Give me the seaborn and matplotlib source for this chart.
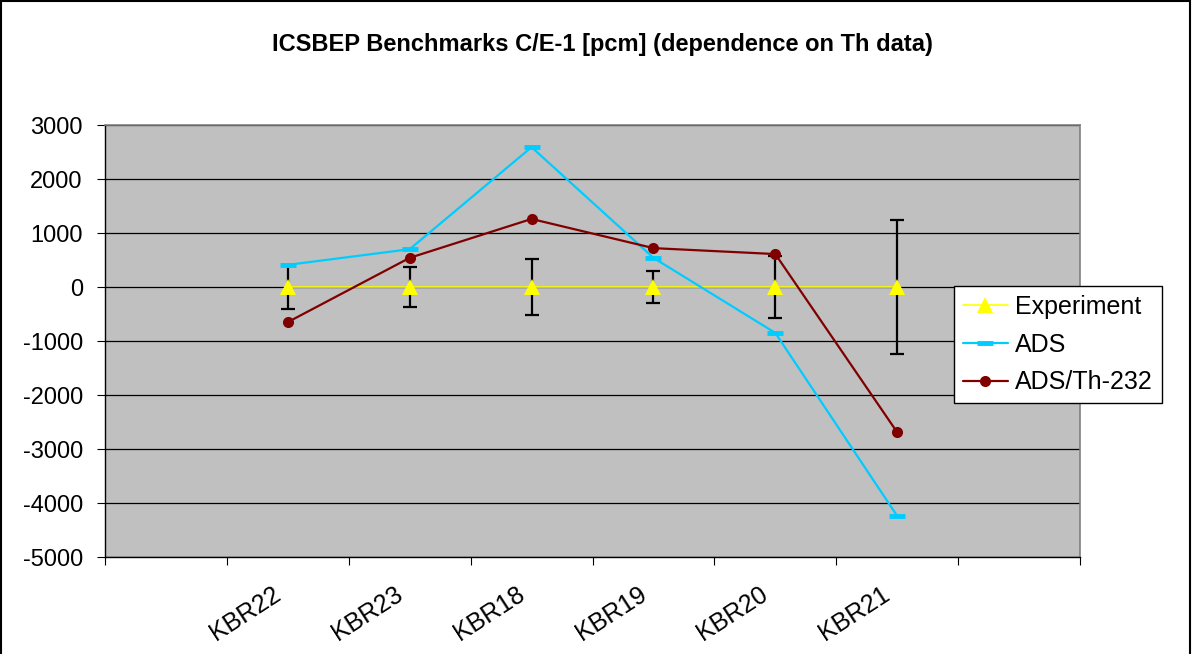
import matplotlib
matplotlib.use("Agg")
import matplotlib.pyplot as plt
import matplotlib.transforms as mtransforms
import seaborn as sns
import pandas as pd
import numpy as np
from matplotlib.lines import Line2D
from matplotlib.patches import Rectangle

categories = ["KBR22", "KBR23", "KBR18", "KBR19", "KBR20", "KBR21"]
experiment = [0, 0, 0, 0, 0, 0]
exp_err = [400, 370, 520, 300, 580, 1240]
ads = [410, 700, 2590, 540, -850, -4240]
ads_th = [-650, 540, 1260, 720, 610, -2690]
yticks = [3000, 2000, 1000, 0, -1000, -2000, -3000, -4000, -5000]

sns.set_theme(style="white")
plt.rcParams['font.family'] = ['Liberation Sans', 'DejaVu Sans']
plt.rcParams['text.color'] = 'black'
plt.rcParams['xtick.color'] = 'black'
plt.rcParams['ytick.color'] = 'black'
plt.rcParams['xtick.labelcolor'] = 'black'
plt.rcParams['ytick.labelcolor'] = 'black'

fig = plt.figure(figsize=(11.92, 6.54), dpi=100)
ax = fig.add_axes([105/1192, 1-557/654, (1080-105)/1192, (557-125)/654])
ax.set_facecolor("#C0C0C0")

x = np.arange(len(categories))
df = pd.DataFrame({"x": x, "Experiment": experiment, "ADS": ads, "ADS/Th-232": ads_th})

for yv in yticks:
    ax.axhline(yv, color="#000000", lw=0.9, zorder=1)

ax.errorbar(df["x"], df["Experiment"], yerr=exp_err, fmt="none", ecolor="black",
            elinewidth=1.6, capsize=5, capthick=1.6, zorder=3)
sns.lineplot(data=df, x="x", y="Experiment", ax=ax, color="#FFFF00", lw=1.2,
             marker="^", markersize=11, markeredgewidth=0, zorder=4)
sns.lineplot(data=df, x="x", y="ADS", ax=ax, color="#00CCFF", lw=1.6,
             marker="_", markersize=12, markeredgewidth=3.5, markeredgecolor="#00CCFF", zorder=5)
sns.lineplot(data=df, x="x", y="ADS/Th-232", ax=ax, color="#800000", lw=1.6,
             marker="o", markersize=8, markeredgewidth=0, zorder=6)

ax.set_xlim(-1.5, 6.5)
ax.set_ylim(-5000, 3000)
ax.set_yticks(yticks)
ax.set_yticklabels([str(v) for v in yticks], fontsize=17)
ax.set_xticks(np.arange(-1.5, 7.0, 1.0))
ax.set_xticklabels([])
ax.set_xticks(x, minor=True)
ax.set_xticklabels(categories, minor=True, rotation=33, ha="right", va="top",
                   rotation_mode="anchor", fontsize=18)
ax.tick_params(axis="x", which="major", direction="out", length=6, width=0.8,
               color="black", bottom=True)
ax.tick_params(axis="x", which="minor", length=0, pad=18)
ax.tick_params(axis="y", direction="out", length=6, width=0.8, color="black",
               left=True, pad=10)
offset = mtransforms.ScaledTranslation(-16/100, 0, fig.dpi_scale_trans)
for lab in ax.get_xticklabels(minor=True):
    lab.set_transform(lab.get_transform() + offset)
ax.set_xlabel("")
ax.set_ylabel("")
for side in ["left", "bottom"]:
    ax.spines[side].set_color("black")
    ax.spines[side].set_linewidth(1.0)
for side in ["top", "right"]:
    ax.spines[side].set_color("#808080")
    ax.spines[side].set_linewidth(1.2)

handles = [
    Line2D([], [], color="#FFFF00", lw=1.2, marker="^", markersize=11, markeredgewidth=0),
    Line2D([], [], color="#00CCFF", lw=1.6, marker="_", markersize=12, markeredgewidth=3.5),
    Line2D([], [], color="#800000", lw=1.6, marker="o", markersize=8, markeredgewidth=0),
]
leg = fig.legend(handles, ["Experiment", "ADS", "ADS/Th-232"],
                 loc="upper left", bbox_to_anchor=(954/1192, 1-286/654),
                 fontsize=18, frameon=True, fancybox=False, framealpha=1,
                 edgecolor="black", borderpad=0.35, labelspacing=0.55,
                 handlelength=1.8, handletextpad=0.3, borderaxespad=0)
leg.get_frame().set_linewidth(1.0)

fig.text(0.505, 1-44/654, "ICSBEP Benchmarks C/E-1 [pcm] (dependence on Th data)",
         ha="center", va="center", fontsize=17, fontweight="bold")

fig.patches.append(Rectangle((1/1192, -0.05), 1189/1192, 1.05 - 1/654, transform=fig.transFigure,
                             fill=False, edgecolor="black", lw=1.5))

fig.savefig("out.png", dpi=100)
